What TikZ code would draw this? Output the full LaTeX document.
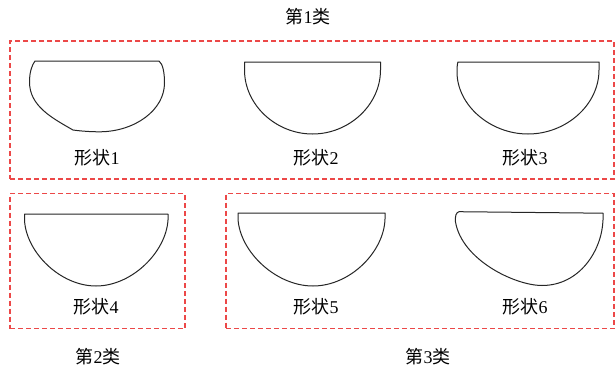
\documentclass[tikz,border=0pt]{standalone}
\usepackage{fontspec}
\setmainfont{Liberation Serif}
\newfontfamily\cjk{Noto Sans CJK SC}
\definecolor{grpred}{RGB}{236,72,72}
\begin{document}
\begin{tikzpicture}[x=1pt,y=-1pt,
  group/.style={draw=grpred,line width=1.1pt,dash pattern=on 5pt off 3pt},
  bowl/.style={draw=black!85,line width=1pt,line join=round},
  lbl/.style={font=\fontsize{18}{21}\selectfont,inner sep=0pt,anchor=center}]
\useasboundingbox[fill=white] (0,0) rectangle (616,367);
% group boxes
\node[group,minimum width=604pt,minimum height=138pt,inner sep=0pt] (g1) at (312,110) {};
\node[group,minimum width=175pt,minimum height=135pt,inner sep=0pt] (g2) at (97.5,261) {};
\node[group,minimum width=388pt,minimum height=135pt,inner sep=0pt] (g3) at (420,261) {};
% group titles
\node[lbl] (t1) at (308,17) {{\cjk 第}1{\cjk 类}};
\node[lbl] (t2) at (98,357) {{\cjk 第}2{\cjk 类}};
\node[lbl] (t3) at (428,357) {{\cjk 第}3{\cjk 类}};
% shape 1
\draw[bowl] (35,61) -- (159,61) .. controls (163,64) and (164.5,73) .. (164.5,83)
  .. controls (164.5,110) and (135,131.5) .. (100,131.8)
  .. controls (90,131.8) and (80,131) .. (73,130)
  .. controls (52,118) and (29.5,106) .. (29.5,82)
  .. controls (29.5,72) and (32,65) .. (35,61) -- cycle;
% shape 2
\draw[bowl] (244.5,62) -- (380.5,62) -- (380.5,70)
  .. controls (380.5,105) and (349,134) .. (312.5,134)
  .. controls (276,134) and (244.5,105) .. (244.5,70) -- cycle;
% shape 3
\draw[bowl] (458,62) -- (599,62) -- (599,70)
  .. controls (599,105) and (566,134) .. (528,134)
  .. controls (490,134) and (457,105) .. (457,72) .. controls (457,66) and (457.5,63) .. (458,62) -- cycle;
% shape 4
\draw[bowl] (24.5,214) -- (168,214) -- (168,220)
  .. controls (166,252) and (132,286) .. (96,286)
  .. controls (60,286) and (26,252) .. (24.5,220) -- cycle;
% shape 5
\draw[bowl] (238,213) -- (385,213) -- (385,219)
  .. controls (384,252) and (350,286) .. (313,286)
  .. controls (276,286) and (240,252) .. (238,219) -- cycle;
% shape 6
\draw[bowl] (459,211.7) -- (603,213.2) -- (603,220)
  .. controls (602,250) and (580,285.5) .. (542,285.5)
  .. controls (515,285.5) and (462,260) .. (455.5,222)
  .. controls (455,216) and (456,212.5) .. (459,211.7) -- cycle;
% labels
\node[lbl] (l1) at (97,158) {{\cjk 形状}1};
\node[lbl] (l2) at (316,158) {{\cjk 形状}2};
\node[lbl] (l3) at (525,158) {{\cjk 形状}3};
\node[lbl] (l4) at (96,307) {{\cjk 形状}4};
\node[lbl] (l5) at (316,307) {{\cjk 形状}5};
\node[lbl] (l6) at (525,307) {{\cjk 形状}6};
\end{tikzpicture}
\end{document}
